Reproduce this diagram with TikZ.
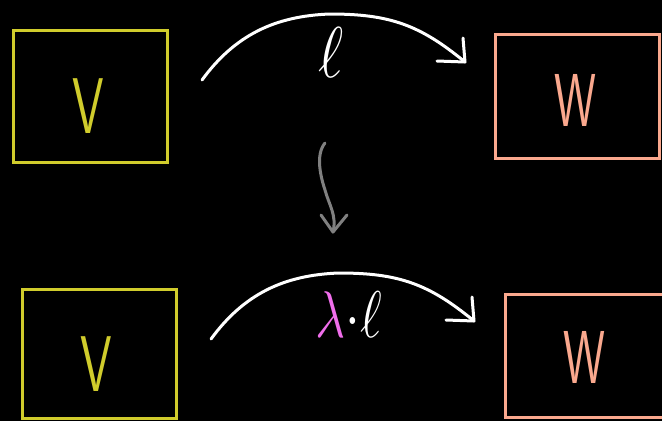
\RequirePackage{fix-cm}
\documentclass[tikz,border=0pt]{standalone}
\usetikzlibrary{calc}
\definecolor{vyellow}{RGB}{208,204,44}
\definecolor{wsalmon}{RGB}{250,168,142}
\definecolor{lpink}{RGB}{240,110,235}
\definecolor{sgray}{RGB}{128,128,128}
\tikzset{
  vbox/.style={draw=vyellow, line width=3pt, rectangle, inner sep=0pt},
  wbox/.style={draw=wsalmon, line width=3pt, rectangle, inner sep=0pt},
  vlet/.style={text=vyellow, inner sep=0pt, font=\sffamily\fontsize{79}{80}\selectfont},
  wlet/.style={text=wsalmon, inner sep=0pt, font=\sffamily\fontsize{75}{76}\selectfont},
  maplab/.style={text=white, inner sep=0pt, font=\fontsize{72}{72}\selectfont},
  arcline/.style={draw=white, line width=3pt, line cap=round, line join=round},
  squig/.style={draw=sgray, line width=3pt, line cap=round, line join=round}
}
\begin{document}
\begin{tikzpicture}[x=1pt,y=-1pt]
\fill[black] (0,0) rectangle (662,421);
\useasboundingbox (0,0) rectangle (662,421);
% top row
\node[vbox, minimum width=154pt, minimum height=132pt] (V1) at (90,96) {};
\node[vlet] (V1t) at (88,106) {\scalebox{0.64}[1]{V}};
\node[wbox, minimum width=164pt, minimum height=124pt] (W1) at (577,96) {};
\node[wlet] (W1t) at (575,100) {\scalebox{0.63}[1]{W}};
% bottom row
\node[vbox, minimum width=154pt, minimum height=129pt] (V2) at (99,353.5) {};
\node[vlet] (V2t) at (96,364) {\scalebox{0.64}[1]{V}};
\node[wbox, minimum width=163pt, minimum height=123pt] (W2) at (586.5,355.5) {};
\node[wlet] (W2t) at (584,357) {\scalebox{0.63}[1]{W}};
% labels
\node[maplab] (L1) at (331,52) {\scalebox{0.85}[1]{$\ell$}};
\node[maplab, font=\fontsize{66}{66}\selectfont] (L2) at (349,315) {\scalebox{0.8}[1]{$\textcolor{lpink}{\lambda}{\cdot}\ell$}};
% top arc
\coordinate (a1s) at (202,80);
\coordinate (a1m) at (330,14);
\coordinate (a1e) at (465,62);
\draw[arcline] (a1s) .. controls (235,35) and (275,16) .. (a1m) .. controls (390,14) and (420,25) .. (a1e);
\draw[arcline] (a1e) ++(-28,-1) -- (a1e) -- ++(-2,-24);
% bottom arc
\coordinate (a2s) at (211,339);
\coordinate (a2m) at (339,273);
\coordinate (a2e) at (474,321);
\draw[arcline] (a2s) .. controls (244,294) and (284,275) .. (a2m) .. controls (399,273) and (429,284) .. (a2e);
\draw[arcline] (a2e) ++(-28,-1) -- (a2e) -- ++(-2,-24);
% squiggle arrow
\coordinate (s1) at (325,143);
\coordinate (s2) at (325,190);
\coordinate (s3) at (333,232);
\draw[squig] (s1) .. controls (315,155) and (321,178) .. (s2) .. controls (329,205) and (337,215) .. (s3);
\draw[squig] (s3) ++(-12,-17) -- (s3) -- ++(14,-17);
\end{tikzpicture}
\end{document}
